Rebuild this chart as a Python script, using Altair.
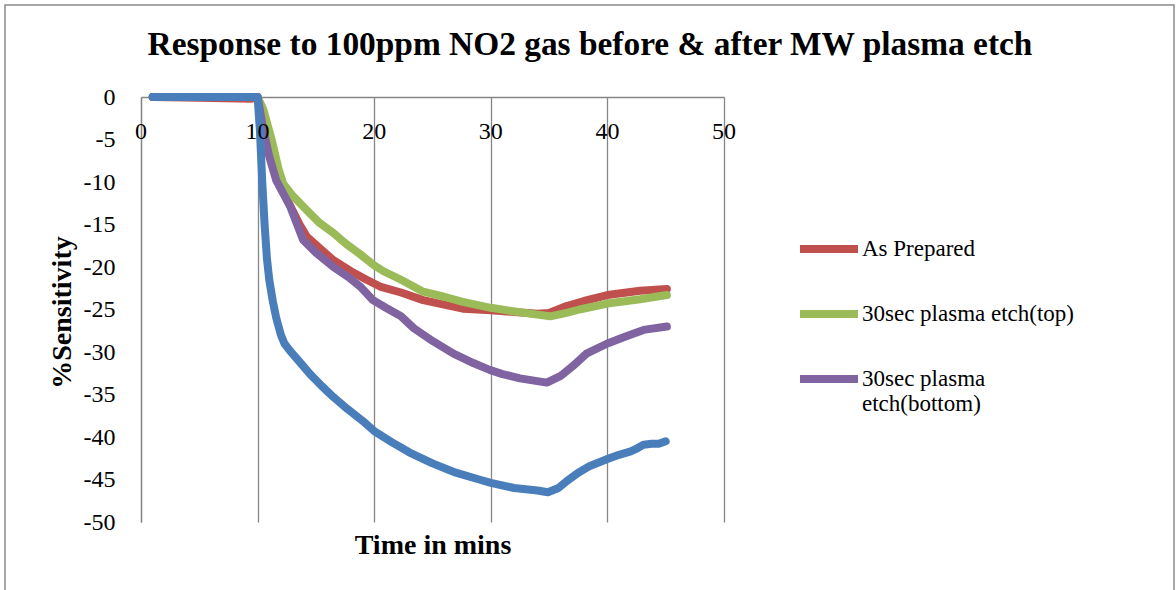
import altair as alt
import pandas as pd

# ---- data ----
red_x = [1, 5, 9.5, 10, 10.6, 11.6, 12.8, 13.6, 14.2, 15.5, 16.5, 18, 19.35, 20.5, 22.3, 24.2, 27.6, 30, 32, 34, 35, 36.5, 38, 40, 42.8, 45.1]
red_y = [0, -0.1, -0.2, 0, -3.5, -9.5, -12.8, -15, -16.4, -18, -19.2, -20.5, -21.5, -22.3, -23, -23.9, -24.9, -25.1, -25.3, -25.5, -25.4, -24.6, -24, -23.3, -22.8, -22.6]

green_x = [1, 10, 10.5, 11.2, 11.8, 12.2, 13, 14.2, 15.3, 16.5, 17.6, 18.8, 20, 20.8, 22.3, 24.2, 26, 27.6, 30, 31.9, 34, 35.1, 36.5, 37.6, 40, 42.8, 45.1]
green_y = [0, 0, -1.5, -5, -8.5, -10.2, -11.6, -13.3, -14.8, -16, -17.3, -18.5, -19.8, -20.5, -21.5, -22.9, -23.5, -24.1, -24.8, -25.2, -25.6, -25.8, -25.4, -25, -24.3, -23.8, -23.3]

purple_x = [1, 10, 10.5, 11, 11.6, 12.8, 13.9, 15, 16.5, 17.8, 18.8, 19.9, 21, 22.3, 23.4, 25, 26.8, 28.5, 29.9, 31, 32.5, 34.8, 36, 37, 38.2, 40, 41.5, 43.1, 45.1]
purple_y = [0, 0, -3.9, -7, -9.8, -12.9, -16.8, -18.3, -20, -21.2, -22.3, -23.9, -24.8, -25.8, -27.2, -28.7, -30.2, -31.3, -32.1, -32.6, -33.1, -33.6, -32.8, -31.7, -30.2, -29, -28.2, -27.4, -27.0]

blue_x = [1, 10, 10.2, 10.4, 10.6, 10.8, 11, 11.3, 11.6, 12, 12.3, 12.8, 13.5, 14.5, 15.5, 16.5, 17.7, 19, 20, 21.5, 23, 25, 27, 29, 30, 32, 34, 34.9, 35.8, 36.5, 37.5, 38.5, 40, 41, 42, 42.6, 43.1, 43.8, 44.4, 45]
blue_y = [0, 0, -4, -10, -15, -19, -21.5, -24, -26, -28, -29, -29.9, -31, -32.6, -34, -35.3, -36.7, -38.1, -39.3, -40.6, -41.8, -43.1, -44.2, -45, -45.4, -46, -46.3, -46.5, -46, -45.2, -44.2, -43.4, -42.6, -42.1, -41.7, -41.3, -40.9, -40.8, -40.8, -40.5]

series_names = ["As Prepared", "30sec plasma etch(top)", "30sec plasma etch(bottom)", "Series 4"]
series_colors = ["#C0504D", "#9BBB59", "#8064A2", "#4A7EBB"]
x_ticks = [0, 10, 20, 30, 40, 50]
x_tick_labels = ["0", "10", "20", "30", "40", "50"]
y_ticks = [0, -5, -10, -15, -20, -25, -30, -35, -40, -45, -50]

title_text = "Response to 100ppm NO2 gas before & after MW plasma etch"
x_title = "Time in mins"
y_title = "%Sensitivity"

rows = []
for name, xs, ys in zip(series_names, [red_x, green_x, purple_x, blue_x], [red_y, green_y, purple_y, blue_y]):
    for i, (a, b) in enumerate(zip(xs, ys)):
        rows.append({"series": name, "t": a, "s": b, "i": i})
df = pd.DataFrame(rows)
tick_df = pd.DataFrame({"t": x_ticks, "label": x_tick_labels})

SERIF = "Liberation Serif"
GRAY = "#868686"

color = alt.Color(
    "series:N",
    scale=alt.Scale(domain=series_names, range=series_colors),
    legend=alt.Legend(
        values=series_names[:3],
        title=None,
        orient="none",
        legendX=655,
        legendY=119,
        symbolType="stroke",
        symbolSize=3364,
        symbolStrokeWidth=8,
        labelFont=SERIF,
        labelFontSize=23,
        labelColor="black",
        labelOffset=0,
        labelLimit=400,
        rowPadding=16,
        padding=0,
        labelExpr="datum.label == '30sec plasma etch(bottom)' ? ['30sec plasma', 'etch(bottom)'] : datum.label",
    ),
)

x_enc = alt.X(
    "t:Q",
    scale=alt.Scale(domain=[0, 50], nice=False, zero=False),
    axis=alt.Axis(
        orient="top",
        values=x_ticks,
        grid=True,
        gridColor=GRAY,
        gridWidth=1.3,
        domainColor=GRAY,
        domainWidth=1.3,
        ticks=False,
        tickSize=0,
        labels=False,
        title=x_title,
        titleFont=SERIF,
        titleFontSize=28,
        titleFontWeight="bold",
        titleColor="black",
        titleX=291.5,
        titleY=448,
        titleBaseline="middle",
        titleAlign="center",
    ),
)
y_enc = alt.Y(
    "s:Q",
    scale=alt.Scale(domain=[-50, 0], nice=False, zero=False),
    axis=alt.Axis(
        orient="left",
        values=y_ticks,
        grid=False,
        domainColor=GRAY,
        domainWidth=1.3,
        ticks=False,
        tickSize=0,
        labelPadding=26,
        labelFont=SERIF,
        labelFontSize=24,
        labelColor="black",
        labelFlush=False,
        labelOverlap=False,
        labelExpr="datum.value + ''",
        title=y_title,
        titleFont=SERIF,
        titleFontSize=28,
        titleFontWeight="bold",
        titleColor="black",
        titleX=-79,
        titleY=215,
        titleAngle=270,
        titleBaseline="middle",
        titleAlign="center",
    ),
)

base = alt.Chart(df)
layers = []
for name in series_names:
    layers.append(
        base.transform_filter(alt.datum.series == name)
        .mark_line(strokeWidth=8, strokeCap="round", strokeJoin="round")
        .encode(x=x_enc, y=y_enc, color=color, order="i:Q")
    )

# x tick labels drawn above the lines (as in the reference)
tick_labels = alt.Chart(tick_df).mark_text(
    font=SERIF, fontSize=24, align="center", baseline="alphabetic", color="black"
).encode(x=x_enc, y=alt.value(42), text="label:N")

one = alt.Chart(pd.DataFrame({"k": [0]}))
frame = one.mark_rect(fill=None, stroke="#8a8a8a", strokeWidth=1.5).encode(
    x=alt.value(-136), x2=alt.value(1033), y=alt.value(-92), y2=alt.value(560)
)
title = one.mark_text(
    text=title_text, font=SERIF, fontSize=33.4, fontWeight="bold", align="center", baseline="middle", color="black"
).encode(x=alt.value(449), y=alt.value(-52))

chart = alt.layer(frame, *layers, tick_labels, title).properties(
    width=583,
    height=425,
    autosize=alt.AutoSizeParams(type="none"),
    padding={"left": 141, "top": 97, "right": 452, "bottom": 68},
    background="white",
).configure_view(stroke=None)

chart.save("out.html", embed_options={"renderer": "svg", "actions": False})
